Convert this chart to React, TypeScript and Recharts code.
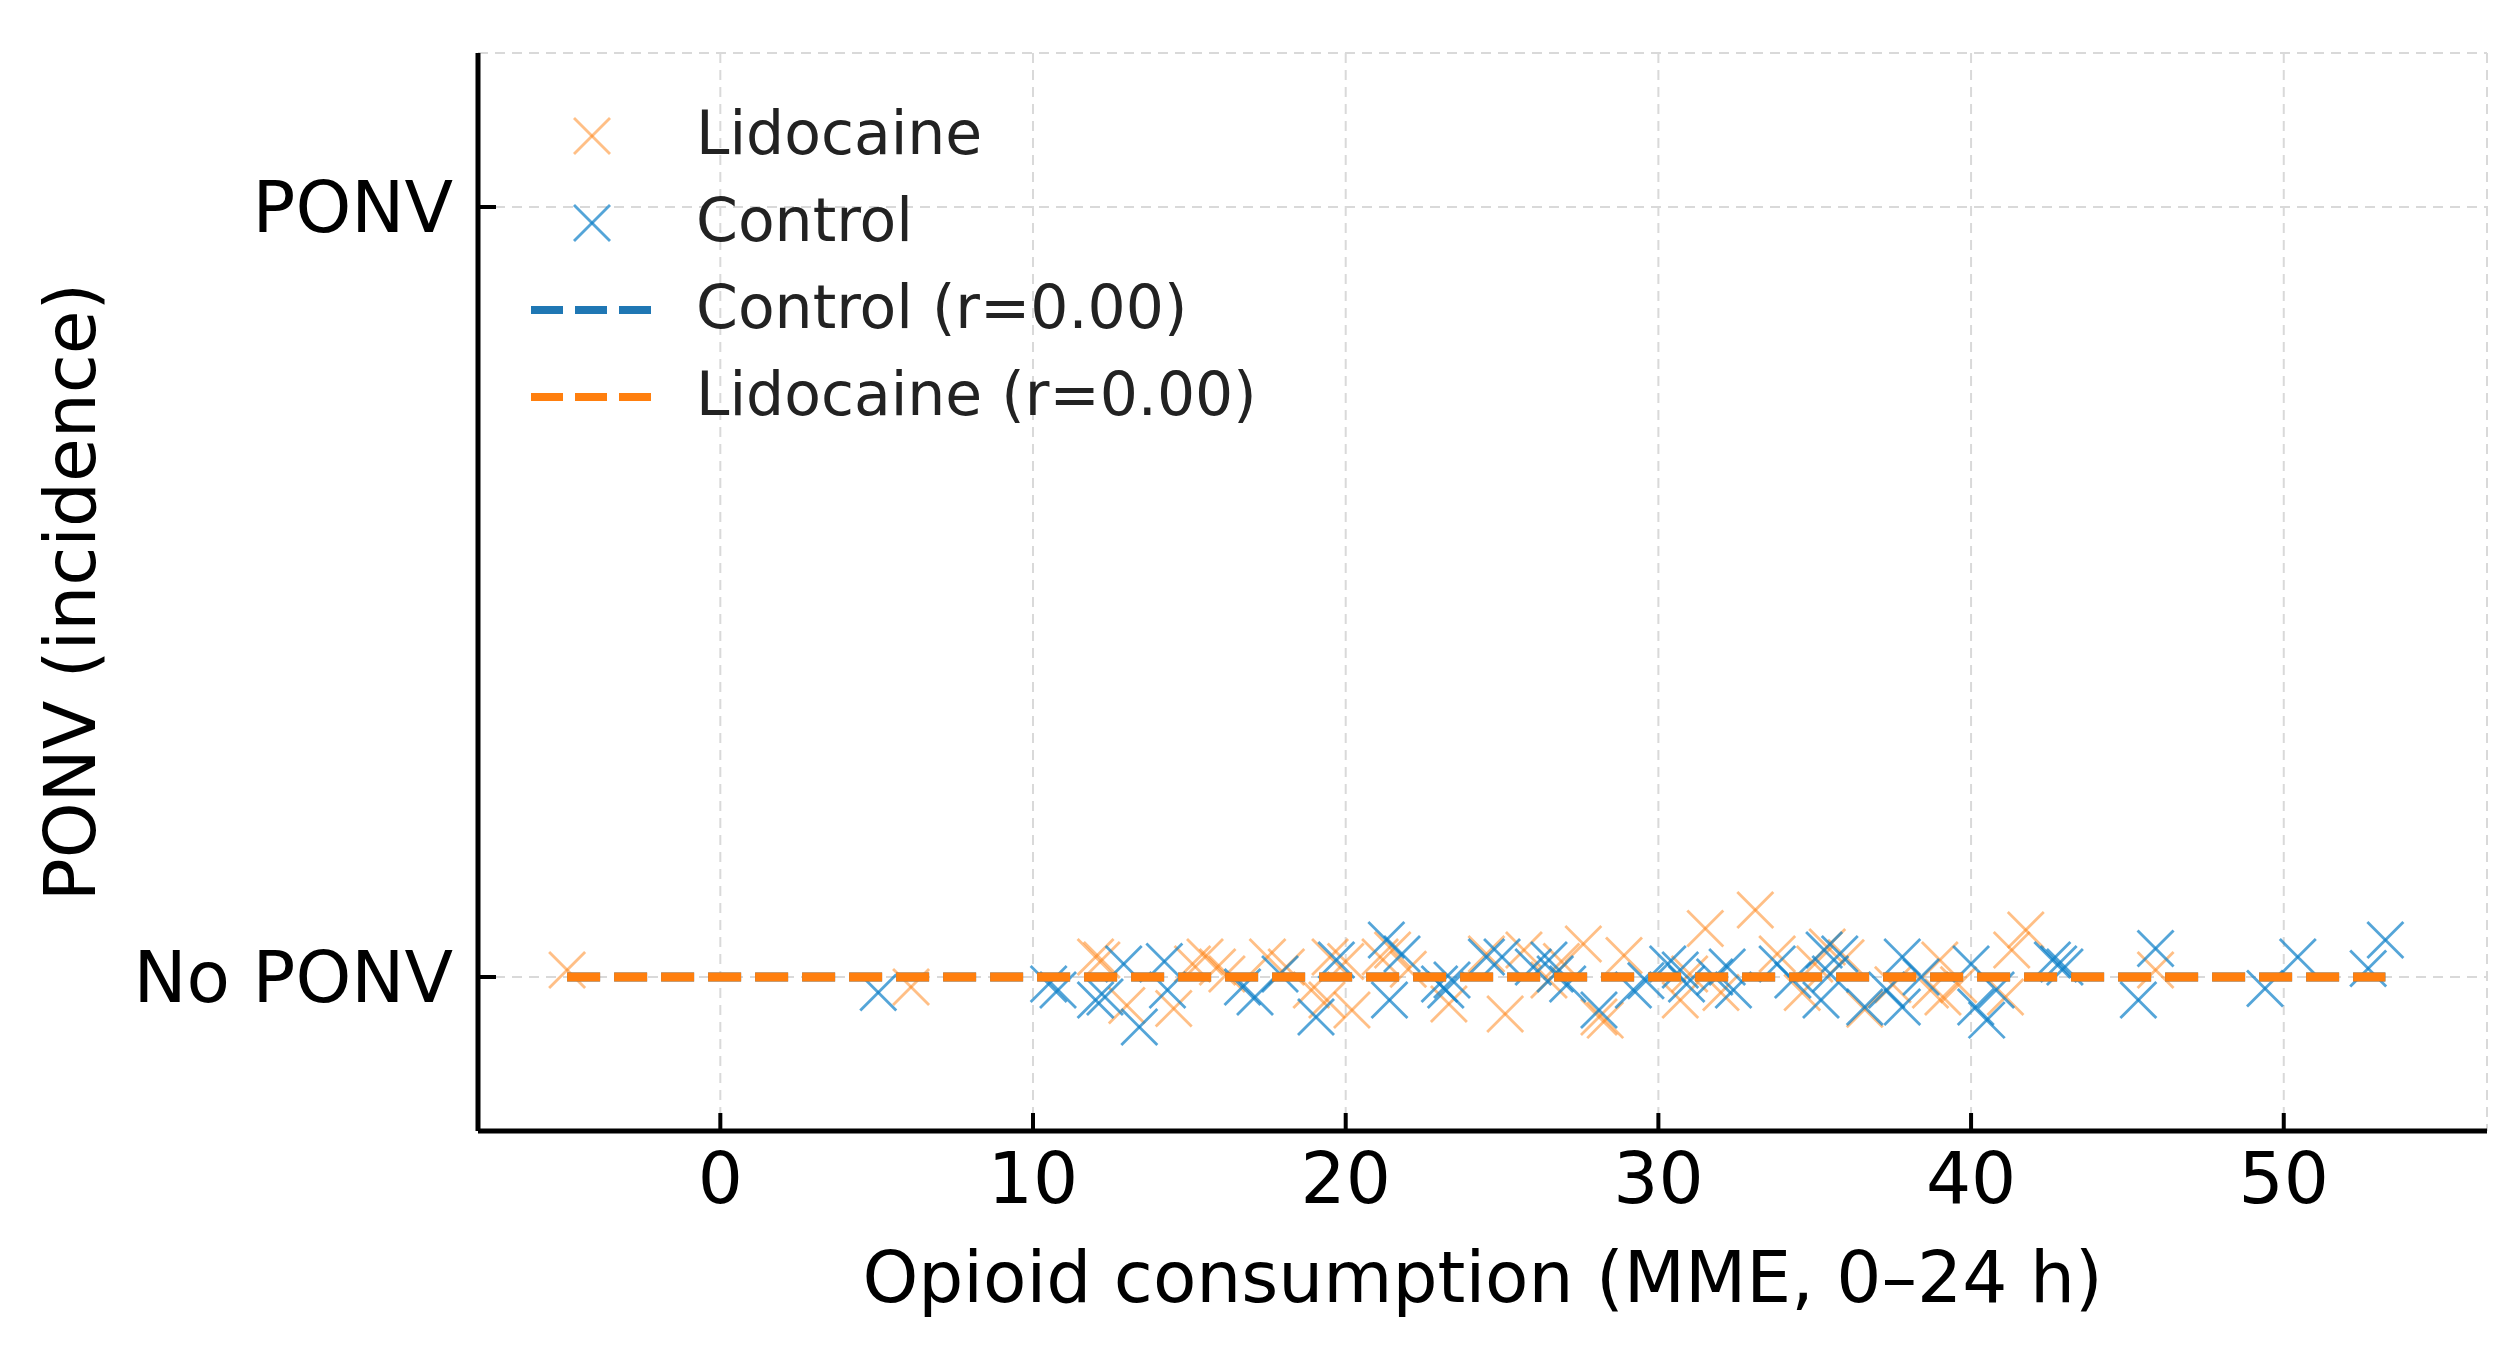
import React from 'react';
import { ScatterChart, Scatter, XAxis, YAxis, CartesianGrid, Legend, Label } from 'recharts';

const ORANGE = '#ff7f0e';
const BLUE = '#1f77b4';
const BLUE_MARK = '#0b7fc7';
const FONT = '"DejaVu Sans", sans-serif';

const xTicks = [0, 10, 20, 30, 40, 50];
const yTicks = [0, 1];
const yTickLabels = ['No PONV', 'PONV'];

// [opioid consumption (MME), PONV + jitter]
const lidocaine: [number, number][] = [
  [-4.9, 0.009], [6.1, -0.013], [12.0, 0.026], [12.2, 0.022], [13.0, -0.037],
  [14.5, -0.041], [15.1, 0.017], [15.5, 0.026], [15.9, 0.013], [17.5, 0.026],
  [18.1, 0.013], [18.9, -0.017], [19.4, -0.03], [19.5, 0.026], [20.0, 0.02],
  [20.2, -0.043], [21.1, 0.026], [21.5, 0.035], [23.3, -0.035], [24.5, 0.03],
  [25.1, -0.048], [25.7, 0.035], [26.5, -0.004], [27.6, 0.043], [28.1, -0.052],
  [28.3, -0.056], [28.9, 0.028], [30.7, -0.03], [31.5, 0.063], [32.0, -0.02],
  [33.1, 0.087], [33.8, 0.03], [34.6, -0.02], [35.0, 0.017], [35.4, 0.039],
  [36.6, -0.042], [37.5, -0.01], [38.7, -0.017], [39.0, 0.022], [39.1, -0.026],
  [39.6, -0.01], [41.1, -0.026], [41.3, 0.035], [41.75, 0.061], [45.9, 0.009],
  [16.2, 0.004], [22.0, 0.01], [26.9, 0.02], [31.0, 0.004], [36.0, 0.025],
];

const control: [number, number][] = [
  [5.05, -0.02], [10.5, -0.009], [10.8, -0.017], [12.0, -0.03], [12.3, -0.026],
  [12.9, 0.017], [13.4, -0.065], [14.2, 0.02], [14.3, -0.017], [16.7, -0.013],
  [17.1, -0.026], [17.9, 0.004], [19.05, -0.052], [19.7, 0.022], [21.3, 0.048],
  [21.4, -0.03], [21.8, 0.03], [23.0, -0.009], [23.2, -0.017], [23.4, -0.004],
  [24.5, 0.026], [25.0, 0.026], [26.0, 0.013], [26.5, 0.022], [26.7, 0.004],
  [27.1, -0.009], [28.1, -0.043], [29.2, -0.017], [29.6, -0.005], [30.3, 0.017],
  [30.7, 0.009], [30.9, -0.009], [31.8, 0.0], [32.2, 0.013], [32.4, -0.017],
  [33.8, 0.017], [34.3, -0.004], [35.2, -0.03], [35.3, 0.035], [35.5, 0.004],
  [35.8, 0.03], [36.6, -0.039], [37.3, -0.017], [37.8, 0.026], [37.8, -0.039],
  [38.4, 0.0], [40.0, 0.017], [40.15, -0.039], [40.5, -0.056], [40.8, -0.017],
  [42.6, 0.022], [42.8, 0.017], [43.0, 0.013], [45.35, -0.03], [45.9, 0.037],
  [49.4, -0.015], [50.45, 0.026], [52.7, 0.011], [53.25, 0.048],
];

// fitted lines (r = 0.00, flat at No PONV) across the pooled MME range
const fitX = [-4.9, 53.25];
const controlFit = fitX.map((x) => ({ x, y: 0 }));
const lidocaineFit = fitX.map((x) => ({ x, y: 0 }));

const toPoints = (rows: [number, number][]) => rows.map(([x, y]) => ({ x, y }));

const crossShape = (color: string, opacity: number) => (props: any) => {
  const { cx, cy } = props;
  if (cx == null || cy == null) return <g />;
  const r = 18;
  return (
    <g stroke={color} strokeOpacity={opacity} strokeWidth={2.8}>
      <line x1={cx - r} y1={cy - r} x2={cx + r} y2={cy + r} />
      <line x1={cx - r} y1={cy + r} x2={cx + r} y2={cy - r} />
    </g>
  );
};

const noShape = () => <g />;

const legendRows = [
  { label: 'Lidocaine', kind: 'cross', color: ORANGE, opacity: 0.5 },
  { label: 'Control', kind: 'cross', color: BLUE_MARK, opacity: 0.7 },
  { label: 'Control (r=0.00)', kind: 'line', color: BLUE, opacity: 1 },
  { label: 'Lidocaine (r=0.00)', kind: 'line', color: ORANGE, opacity: 1 },
];

const LegendBox = () => (
  <svg width={1300} height={460} style={{ display: 'block', pointerEvents: 'none' }}>
    {legendRows.map((row, i) => {
      const cy = 136 + i * 87;
      return (
        <g key={row.label}>
          {row.kind === 'cross'
            ? crossShape(row.color, row.opacity)({ cx: 592, cy })
            : (
              <line x1={531} y1={cy} x2={651} y2={cy} stroke={row.color}
                strokeWidth={8} strokeDasharray="32 12" />
            )}
          <text x={696} y={cy + 18} fontSize={60} fill="#222" fontFamily={FONT}>{row.label}</text>
        </g>
      );
    })}
  </svg>
);

export default function App() {
  return (
    <div style={{ position: 'absolute', left: 0, top: 0, background: '#fff', fontFamily: FONT }}>
      <ScatterChart width={2517} height={1350} margin={{ top: 53, right: 30, bottom: 0, left: 0 }}>
        <CartesianGrid stroke="#d9d9d9" strokeWidth={2} strokeDasharray="10 7" />
        <XAxis
          type="number"
          dataKey="x"
          domain={[-7.75, 56.5]}
          ticks={xTicks}
          interval={0}
          allowDataOverflow
          height={219}
          axisLine={{ stroke: '#000', strokeWidth: 5 }}
          tickLine={{ stroke: '#000', strokeWidth: 4 }}
          tickSize={-18}
          tickMargin={40}
          tick={{ fontSize: 71, fill: '#000', fontFamily: FONT }}
        >
          <Label value="Opioid consumption (MME, 0–24 h)" position="insideBottom" offset={48}
            fontSize={71} fill="#000" fontFamily={FONT} />
        </XAxis>
        <YAxis
          type="number"
          dataKey="y"
          domain={[-0.2, 1.2]}
          ticks={yTicks}
          interval={0}
          allowDataOverflow
          width={478}
          axisLine={{ stroke: '#000', strokeWidth: 5 }}
          tickLine={{ stroke: '#000', strokeWidth: 4 }}
          tickSize={-18}
          tickMargin={43}
          tickFormatter={(v: number) => yTickLabels[yTicks.indexOf(v)] ?? ''}
          tick={{ fontSize: 71, fill: '#000', fontFamily: FONT }}
        >
          <Label value="PONV (incidence)" angle={-90} position="insideLeft" offset={70}
            fontSize={71} fill="#000" fontFamily={FONT} style={{ textAnchor: 'middle' }} />
        </YAxis>
        <Legend
          layout="vertical"
          align="center"
          verticalAlign="middle"
          content={() => <LegendBox />}
          wrapperStyle={{ left: 0, top: 0, width: 1300, height: 460 }}
        />
        <Scatter name="Lidocaine" data={toPoints(lidocaine)} shape={crossShape(ORANGE, 0.5)}
          isAnimationActive={false} />
        <Scatter name="Control" data={toPoints(control)} shape={crossShape(BLUE_MARK, 0.7)}
          isAnimationActive={false} />
        <Scatter name="Control (r=0.00)" data={controlFit} shape={noShape} fill={BLUE}
          line={{ stroke: BLUE, strokeWidth: 9, strokeDasharray: '33 14' }} isAnimationActive={false} />
        <Scatter name="Lidocaine (r=0.00)" data={lidocaineFit} shape={noShape} fill={ORANGE}
          line={{ stroke: ORANGE, strokeWidth: 9, strokeDasharray: '33 14' }} isAnimationActive={false} />
      </ScatterChart>
    </div>
  );
}
